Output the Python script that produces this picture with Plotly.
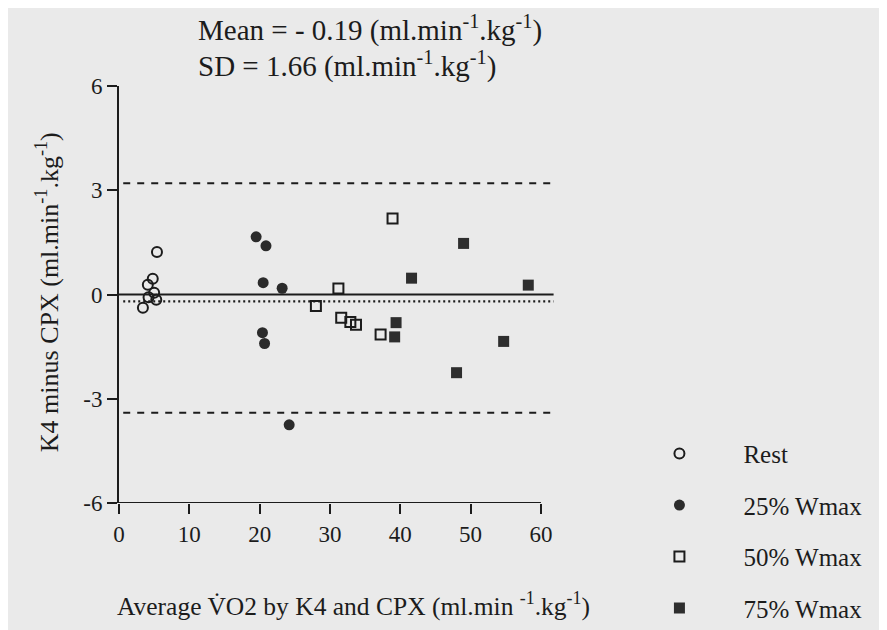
import plotly.graph_objects as go

# ---- data ----
rest_x = [5.4, 4.8, 4.1, 5.0, 4.2, 5.3, 3.4]
rest_y = [1.22, 0.45, 0.28, 0.05, -0.08, -0.15, -0.38]
w25_x = [19.5, 20.9, 20.5, 23.2, 20.4, 20.7, 24.2]
w25_y = [1.66, 1.40, 0.34, 0.18, -1.10, -1.41, -3.75]
w50_x = [38.9, 31.2, 28.0, 31.6, 32.9, 33.7, 37.2]
w50_y = [2.19, 0.17, -0.33, -0.67, -0.79, -0.87, -1.15]
w75_x = [49.0, 41.6, 58.2, 39.4, 39.2, 54.7, 48.0]
w75_y = [1.47, 0.47, 0.27, -0.81, -1.22, -1.35, -2.25]

series_names = ["Rest", "25% Wmax", "50% Wmax", "75% Wmax"]
mean_diff = -0.2
upper_loa = 3.2
lower_loa = -3.4
x_ticks = [0, 10, 20, 30, 40, 50, 60]
y_ticks = [-6, -3, 0, 3, 6]

FONT = "Liberation Serif"
INK = "#1c1c1c"
BG = "#eaeaea"

W, H = 887, 630
L, T = 111, 77.5
PW, PH = 436.5, 417.8
R = W - L - PW
B = H - T - PH


def py(page_y):
    """page pixel y -> paper coordinate (page has an 8px body margin)"""
    return (T + PH - (page_y - 8)) / PH


def px(page_x):
    return ((page_x - 8) - L) / PW


fig = go.Figure()
styles = [
    dict(symbol="circle-open", size=10, color=INK, line=dict(width=2, color=INK)),
    dict(symbol="circle", size=11, color="#2b2b2b", line=dict(width=0)),
    dict(symbol="square-open", size=10, color=INK, line=dict(width=2, color=INK)),
    dict(symbol="square", size=11, color="#2e2e2e", line=dict(width=0)),
]
for i, (xs, ys) in enumerate([(rest_x, rest_y), (w25_x, w25_y), (w50_x, w50_y), (w75_x, w75_y)]):
    fig.add_trace(go.Scatter(
        x=xs, y=ys, mode="markers", name=series_names[i],
        marker=styles[i], legendgroup=f"g{i}", cliponaxis=False,
    ))

# reference lines
fig.add_shape(type="line", xref="x", yref="y", x0=0, x1=61.8, y0=0, y1=0,
              line=dict(color=INK, width=2))
fig.add_shape(type="line", xref="x", yref="y", x0=0.6, x1=61.8, y0=mean_diff, y1=mean_diff,
              line=dict(color=INK, width=2.2, dash="2px,3px"))
fig.add_shape(type="line", xref="x", yref="y", x0=0.6, x1=62, y0=upper_loa, y1=upper_loa,
              line=dict(color=INK, width=2, dash="7px,7px"))
fig.add_shape(type="line", xref="x", yref="y", x0=0.6, x1=62, y0=lower_loa, y1=lower_loa,
              line=dict(color=INK, width=2, dash="7px,7px"))
# x axis line (0..60 only)
fig.add_shape(type="line", xref="x", yref="y", x0=0, x1=60, y0=-6, y1=-6,
              line=dict(color=INK, width=2))

fig.update_layout(
    width=W, height=H,
    margin=dict(l=L, r=R, t=T, b=B, autoexpand=False),
    paper_bgcolor=BG, plot_bgcolor=BG,
    font=dict(family=FONT, color=INK, size=23),
    showlegend=True,
    legend=dict(
        x=px(676) - 60 / PW, y=py(431), xanchor="left", yanchor="top",
        bgcolor="rgba(0,0,0,0)", font=dict(family=FONT, size=25, color=INK),
        itemwidth=118, tracegroupgap=16, traceorder="grouped",
    ),
    xaxis=dict(
        range=[0, 62], tickvals=x_ticks, ticktext=[str(v) for v in x_ticks],
        showgrid=False, zeroline=False, showline=False,
        ticks="outside", ticklen=10, tickwidth=2, tickcolor=INK,
        tickfont=dict(family=FONT, size=23, color=INK),
    ),
    yaxis=dict(
        range=[-6, 6], tickvals=y_ticks, ticktext=[str(v) for v in y_ticks],
        showgrid=False, zeroline=False, showline=True, linewidth=2, linecolor=INK,
        ticks="outside", ticklen=10, tickwidth=2, tickcolor=INK,
        tickfont=dict(family=FONT, size=23, color=INK),
    ),
)

fig.add_annotation(xref="paper", yref="paper", x=px(196), y=py(28),
                   xanchor="left", yanchor="middle", showarrow=False,
                   text="Mean = - 0.19 (ml.min<sup>-1</sup>.kg<sup>-1</sup>)",
                   font=dict(family=FONT, size=29, color=INK))
fig.add_annotation(xref="paper", yref="paper", x=px(196), y=py(64),
                   xanchor="left", yanchor="middle", showarrow=False,
                   text="SD = 1.66 (ml.min<sup>-1</sup>.kg<sup>-1</sup>)",
                   font=dict(family=FONT, size=29, color=INK))
fig.add_annotation(xref="paper", yref="paper", x=px(354), y=py(605),
                   xanchor="center", yanchor="middle", showarrow=False,
                   text="Average V\u0307O2 by K4 and CPX (ml.min <sup>-1</sup>.kg<sup>-1</sup>)",
                   font=dict(family=FONT, size=25.5, color=INK))
fig.add_annotation(xref="paper", yref="paper", x=px(47), y=py(292),
                   xanchor="center", yanchor="middle", showarrow=False, textangle=-90,
                   text="K4 minus CPX (ml.min<sup>-1</sup>.kg<sup>-1</sup>)",
                   font=dict(family=FONT, size=26, color=INK))

fig.write_html("out.html")
